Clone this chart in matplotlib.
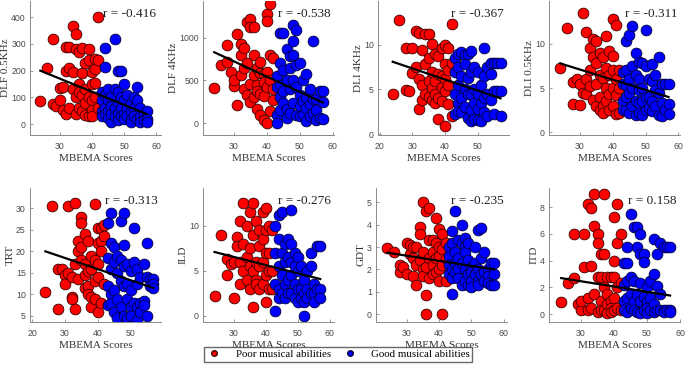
import numpy as np
import matplotlib
matplotlib.use("Agg")
import matplotlib.pyplot as plt
from matplotlib.lines import Line2D

# MBEMA score of each participant (same people in every panel)
poor_x = [24, 26, 28, 28, 29, 30, 30, 31, 31, 32, 32, 32, 33, 33, 33, 34, 34, 34,
          35, 35, 35, 35, 36, 36, 36, 36, 37, 37, 37, 37, 38, 38, 38, 38,
          39, 39, 39, 39, 40, 40, 40, 40, 40, 41, 41, 41, 41, 42, 42, 42]
good_x = [43, 43, 43, 43, 44, 44, 44, 44, 44, 45, 45, 45, 45, 46, 46, 46, 46,
          47, 47, 47, 47, 48, 48, 48, 48, 48, 49, 49, 49, 49, 50, 50, 50, 50,
          51, 51, 51, 52, 52, 52, 52, 53, 53, 53, 54, 54, 54, 55, 55, 55, 56, 56, 57, 57, 57]

ylabels = ["DLF 0.5KHz", "DLF 4KHz", "DLI 4KHz", "DLI 0.5KHz", "TRT", "ILD", "GDT", "ITD"]
r_text = ["r = -0.416", "r = -0.538", "r = -0.367", "r = -0.311",
          "r = -0.313", "r = -0.276", "r = -0.235", "r = 0.158"]

dlf05_poor = [85, 210, 320, 75, 70, 135, 90, 140, 55, 290, 200, 40, 290, 210, 60, 365, 195, 130,
              335, 280, 100, 40, 270, 150, 120, 60, 285, 190, 110, 50, 230, 130, 80, 35,
              280, 240, 100, 30, 195, 150, 90, 55, 30, 245, 205, 155, 100, 400, 240, 60]
dlf05_good = [120, 90, 50, 30, 285, 215, 110, 60, 40, 130, 90, 50, 25, 100, 70, 10, 40,
              320, 130, 60, 30, 200, 120, 80, 40, 15, 200, 100, 60, 30, 150, 90, 40, 20,
              110, 60, 30, 80, 50, 20, 10, 100, 60, 30, 140, 90, 20, 60, 30, 10, 40, 15, 50, 20, 10]

dlf4_poor = [410, 680, 910, 720, 600, 430, 500, 1040, 210, 930, 800, 560, 880, 650, 400,
             1180, 700, 330, 1220, 1130, 460, 250, 1130, 800, 560, 300, 650, 450, 380, 170,
             720, 590, 340, 100, 580, 480, 320, 30, 1280, 1200, 600, 420, 0,
             1390, 800, 500, 140, 760, 400, 270]
dlf4_good = [550, 420, 90, 0, 1060, 700, 450, 300, 150, 1060, 620, 380, 230, 870, 500, 60, 160,
             780, 640, 400, 120, 1150, 960, 800, 500, 230, 1090, 680, 420, 90, 700, 330, 200, 80,
             500, 260, 100, 580, 310, 20, 180, 400, 220, 80, 960, 280, 120, 280, 150, 40,
             370, 60, 370, 250, 50]

dli4_poor = [4.5, 12.8, 9.6, 4.9, 4.8, 6.8, 9.6, 11.5, 7.5, 11.3, 6.2, 2.8, 9.4, 5.5, 3.8,
             11.2, 7.8, 4.5, 11.2, 8.5, 6.0, 4.2, 10.1, 7.0, 5.2, 3.8, 9.0, 6.0, 4.5, 3.5,
             8.7, 6.7, 4.0, 1.7, 9.6, 6.5, 5.3, 3.7, 10.0, 7.8, 6.2, 4.8, 0.9,
             9.6, 7.2, 5.5, 3.4, 12.3, 8.0, 2.0]
dli4_good = [8.5, 7.0, 4.5, 2.2, 9.0, 7.5, 5.5, 3.5, 2.6, 9.2, 6.5, 4.0, 2.5, 8.8, 7.8, 5.0, 3.0,
             9.0, 6.3, 4.5, 1.8, 9.3, 7.0, 4.5, 2.7, 1.5, 7.5, 5.0, 3.5, 1.7, 7.0, 4.5, 2.8, 1.6,
             5.5, 3.5, 1.5, 9.6, 6.5, 4.0, 2.5, 7.5, 4.5, 2.0, 8.0, 6.7, 3.8, 8.0, 4.8, 2.2,
             8.0, 4.8, 8.0, 4.8, 2.0]

dli05_poor = [7.3, 11.8, 5.7, 3.2, 6.0, 5.5, 3.1, 13.5, 4.5, 11.3, 6.0, 4.3, 9.5, 7.0, 5.2,
              10.6, 8.5, 3.7, 10.3, 7.8, 5.5, 3.0, 9.0, 6.5, 4.0, 2.5, 8.5, 6.2, 3.0, 2.2,
              10.9, 7.3, 5.0, 3.5, 9.2, 6.5, 4.3, 2.5, 12.8, 8.6, 7.0, 5.0, 3.0,
              12.1, 6.0, 4.2, 2.1, 7.0, 5.0, 2.2]
dli05_good = [6.8, 5.5, 3.5, 2.5, 10.3, 7.0, 5.3, 4.0, 2.5, 11.0, 6.0, 4.5, 2.2, 12.0, 7.5, 5.0, 3.0,
              9.0, 6.5, 3.5, 2.0, 8.0, 6.0, 4.8, 3.3, 2.2, 7.8, 5.0, 3.5, 2.0, 11.6, 7.5, 4.0, 2.5,
              6.0, 4.0, 2.7, 7.7, 5.8, 3.5, 2.4, 6.5, 4.8, 3.0, 8.5, 4.5, 2.0, 5.5, 3.3, 1.8,
              5.5, 2.5, 5.5, 3.2, 2.1]

trt_poor = [10.5, 30.6, 16, 6.7, 16, 14.5, 12.5, 30.6, 15, 14, 9.5, 9, 31.2, 17, 6.7,
            22.5, 20, 13.5, 28, 26.5, 21, 18, 24, 17, 14.5, 11.5, 22.5, 15.5, 12, 10,
            19, 16, 9.5, 7, 31, 18, 13, 9, 25.5, 22, 17, 14, 6,
            25.5, 22.5, 20, 8, 26, 23.5, 12.5]
trt_good = [26.5, 18.5, 12, 7.5, 29, 22, 16, 10, 8, 21, 17.5, 11, 6, 19, 15, 9, 4.5,
            27, 18, 13, 7, 29, 21.5, 16.5, 12, 5, 17, 12.5, 9, 4.5, 15.5, 11, 7, 5,
            25.5, 17.5, 8, 16, 12.5, 7, 4, 14, 8, 6, 17, 8.5, 7.5, 22, 14, 5,
            13.5, 12, 13.5, 12.5, 11.5]

ild_poor = [2.2, 9.0, 4.5, 6.3, 5.8, 2.0, 6.0, 8.8, 7.8, 10.5, 6.0, 3.5, 12.5, 8.0, 5.0,
            10.0, 6.5, 4.0, 11.5, 7.5, 5.5, 3.0, 12.5, 9.0, 5.0, 1.0, 10.5, 6.0, 4.0, 3.5,
            9.5, 7.8, 5.5, 3.0, 11.5, 8.5, 6.0, 3.5, 12.0, 9.5, 7.0, 4.5, 1.5,
            10.0, 7.0, 5.0, 3.0, 9.5, 5.0, 3.0]
ild_good = [10.0, 7.0, 3.5, 0.5, 11.2, 8.5, 5.5, 3.0, 2.0, 11.5, 7.0, 4.5, 2.5, 8.0, 6.0, 3.5, 2.0,
            8.5, 6.5, 4.0, 2.5, 11.8, 8.0, 6.0, 4.5, 2.5, 7.0, 5.5, 3.5, 2.0, 6.5, 5.0, 3.0, 1.5,
            5.5, 3.0, 2.0, 4.0, 2.5, 0.0, 1.5, 5.0, 3.0, 2.0, 7.0, 5.5, 2.5, 3.5, 2.5, 1.5,
            7.8, 3.0, 7.8, 3.0, 2.0]

gdt_poor = [2.95, 2.8, 1.9, 2.2, 2.1, 3.2, 1.8, 3.1, 2.7, 3.0, 2.5, 1.7, 3.0, 2.2, 1.3,
            3.9, 3.6, 2.4, 5.0, 2.8, 2.0, 1.7, 4.6, 2.1, 0.85, 0.0, 4.75, 3.3, 2.5, 1.6,
            3.3, 2.8, 2.2, 1.8, 4.3, 3.2, 2.5, 1.9, 3.8, 3.0, 2.6, 2.0, 1.5,
            3.6, 2.9, 2.2, 0.0, 3.2, 2.5, 1.5]
gdt_good = [3.0, 2.6, 2.2, 1.8, 3.7, 3.2, 2.0, 1.6, 0.9, 4.6, 2.8, 2.3, 1.9, 3.3, 2.5, 2.0, 1.6,
            4.0, 3.2, 2.3, 1.3, 3.4, 3.0, 2.8, 2.0, 1.5, 3.2, 2.4, 1.8, 1.3, 2.1, 1.9, 1.5, 1.2,
            3.0, 2.3, 1.8, 3.75, 2.0, 1.5, 1.3, 3.85, 2.5, 1.8, 2.8, 1.9, 1.5, 2.0, 1.7, 1.4,
            2.3, 1.3, 2.3, 1.8, 1.3]

itd_poor = [0.9, 2.3, 6.0, 2.7, 0.8, 0.3, 1.0, 6.0, 3.5, 8.2, 1.2, 0.3, 7.9, 3.6, 0.5,
            9.0, 6.6, 1.5, 6.0, 5.3, 2.8, 0.2, 4.5, 2.8, 1.0, 0.3, 9.0, 4.5, 2.0, 0.3,
            2.8, 1.5, 0.8, 0.1, 2.8, 1.0, 0.5, 0.2, 7.3, 4.0, 2.8, 1.2, 0.3,
            8.2, 5.3, 2.0, 0.5, 6.0, 2.3, 0.3]
itd_good = [3.8, 2.2, 1.0, 0.3, 5.0, 3.8, 2.5, 1.2, 0.2, 7.5, 2.8, 1.5, 0.5, 6.5, 2.5, 1.0, 0.3,
            6.5, 5.0, 1.5, 0.2, 6.0, 4.5, 2.3, 1.0, 0.1, 4.5, 3.9, 1.3, 0.3, 2.0, 1.0, 0.5, 0.1,
            2.5, 1.2, 0.3, 5.6, 3.0, 0.8, 0.2, 4.5, 2.1, 0.3, 5.3, 1.5, 0.3, 5.0, 0.3, 0.2,
            5.0, 0.3, 5.0, 0.3, 0.2]

poor_y = [dlf05_poor, dlf4_poor, dli4_poor, dli05_poor, trt_poor, ild_poor, gdt_poor, itd_poor]
good_y = [dlf05_good, dlf4_good, dli4_good, dli05_good, trt_good, ild_good, gdt_good, itd_good]

# regression line (slope, intercept)
fit_slope = [-4.909, -17.88, -0.1242, -0.1152, -0.2576, -0.0909, -0.02273, -0.0394]
fit_icpt = [317.8, 1259, 11.08, 10.56, 26.18, 9.28, 3.295, 3.645]

ylims = [(-40, 460), (-140, 1430), (-0.1, 14.9), (-0.3, 14.85),
         (3.6, 34.7), (-0.67, 14.2), (-0.34, 5.63), (-0.58, 9.43)]
xlims = [(20.8, 61.4), (20.6, 60.4), (19.5, 59.6), (20.6, 60.5),
         (19.3, 59.3), (20.4, 61.3), (20.5, 61), (20.3, 60)]
yticks = [[0, 100, 200, 300, 400], [0, 500, 1000], [0, 5, 10], [0, 5, 10],
          [5, 10, 15, 20, 25, 30], [0, 5, 10], [0, 1, 2, 3, 4, 5], [0, 2, 4, 6, 8]]
r_pos_x = [0.56, 0.57, 0.56, 0.58, 0.57, 0.57, 0.57, 0.60]

W, H = 685, 365
lefts = [30, 203, 378, 549, 30, 203, 376, 549]

fig = plt.figure(figsize=(6.85, 3.65), dpi=100)
serif = "Liberation Serif"

for i in range(8):
    row = i // 4
    if row == 0:
        top, bot = 1, 135
    else:
        top, bot = 188, 322
    ax = fig.add_axes([lefts[i] / W, 1 - bot / H, 131 / W, (bot - top) / H])
    assert len(poor_y[i]) == len(poor_x) and len(good_y[i]) == len(good_x), i
    ax.scatter(poor_x, poor_y[i], s=60, c="#ff0000", edgecolors="#3a0000", linewidths=0.6, zorder=2)
    ax.scatter(good_x, good_y[i], s=60, c="#0000ff", edgecolors="#00003a", linewidths=0.6, zorder=2)
    xs = np.array([min(poor_x), max(good_x)])
    ax.plot(xs, fit_slope[i] * xs + fit_icpt[i], color="black", lw=1.6, zorder=3)
    ax.set_xlim(*xlims[i])
    ax.set_ylim(*ylims[i])
    ax.set_yticks(yticks[i])
    ax.set_xticks([t for t in [20, 30, 40, 50, 60] if xlims[i][0] <= t <= xlims[i][1]])
    for s in ["top", "right"]:
        ax.spines[s].set_visible(False)
    for s in ["left", "bottom"]:
        ax.spines[s].set_color("#8a8a8a")
        ax.spines[s].set_linewidth(0.7)
    ax.tick_params(direction="in", length=2, width=0.6, color="#8a8a8a",
                   labelsize=6.3, labelcolor="#4a4a4a")
    ax.tick_params(axis="x", pad=5)
    ax.tick_params(axis="y", pad=3)
    for lab in ax.get_xticklabels() + ax.get_yticklabels():
        lab.set_family("Liberation Sans")
    ax.set_xlabel("MBEMA Scores", family=serif, fontsize=8, color="#333333", labelpad=2)
    ax.set_ylabel(ylabels[i], family=serif, fontsize=8, color="#333333", labelpad=1)
    ax.text(r_pos_x[i], 0.9, r_text[i], transform=ax.transAxes, family=serif, fontsize=9.5,
            color="#222222", va="center", zorder=4)

handles = [Line2D([], [], marker="o", ls="", color="#ff0000", markeredgecolor="#3a0000", markersize=4),
           Line2D([], [], marker="o", ls="", color="#0000ff", markeredgecolor="#00003a", markersize=4)]
fig.legend(handles, ["Poor musical abilities", "Good musical abilities"], ncol=2,
           loc="lower center", bbox_to_anchor=(0.4934, -0.006), frameon=True, fancybox=False,
           edgecolor="#444444", prop={"family": serif, "size": 7.8},
           handletextpad=1.2, columnspacing=1.0, borderpad=0.25, handlelength=1.5)

fig.savefig("out.png", dpi=100)
